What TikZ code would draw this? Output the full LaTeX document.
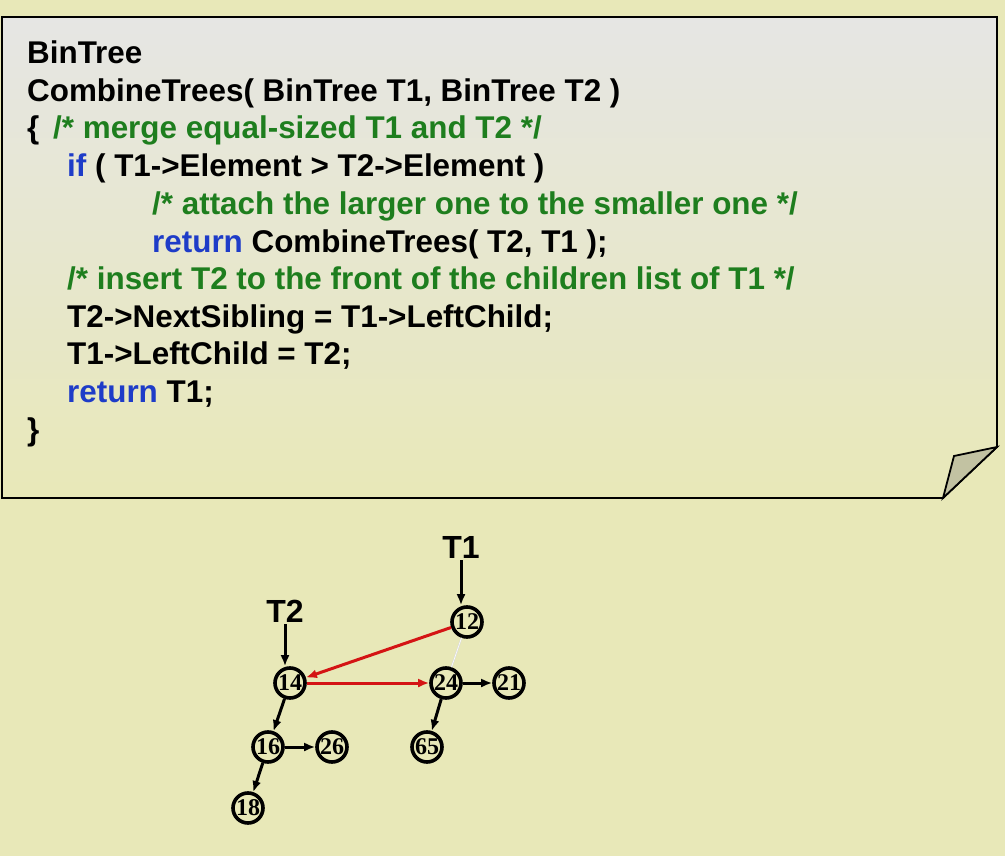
\documentclass[tikz,border=0pt]{standalone}
\usepackage{fontspec}
\setmainfont{Liberation Sans}
\newfontfamily\numfont{Liberation Serif}
\usetikzlibrary{arrows.meta}

\definecolor{bg}{HTML}{E8E8B8}
\definecolor{boxtop}{HTML}{E6E6E4}
\definecolor{cmt}{HTML}{1E7E1E}
\definecolor{kw}{HTML}{1E3CC8}
\definecolor{fold}{HTML}{C2C2A2}
\definecolor{redlink}{HTML}{D41414}

\tikzset{
  code/.style={anchor=base west,inner sep=0pt,font=\fontsize{31.4}{36}\selectfont\bfseries},
  elem/.style={circle,draw,line width=3.6pt,minimum size=30pt,inner sep=0pt,
    font=\numfont\bfseries\fontsize{24}{24}\selectfont},
  link/.style={->,line width=3pt},
  tname/.style={font=\fontsize{32}{32}\selectfont\bfseries,inner sep=2pt}
}

\begin{document}
\begin{tikzpicture}[x=1pt,y=-1pt,>={Latex[length=11pt,width=9pt]}]
        \fill[bg] (0,0) rectangle (1005,856);
        \useasboundingbox (0,0) rectangle (1005,856);

        % code box with folded corner
        \shade[top color=boxtop,bottom color=bg] (2,17)--(997,17)--(997,447)--(943,498)--(2,498)--cycle;
        \draw[line width=1.8pt] (2,17)--(997,17)--(997,447)--(943,498)--(2,498)--cycle;
        \draw[fill=fold,line width=1.8pt] (997,447)--(954,456)--(943,498)--cycle;

        \node[code] (l1) at (27,64) {BinTree};
        \node[code] (l2) at (27,101.6) {CombineTrees( BinTree T1, BinTree T2 )};
        \node[code] (l3) at (27,139) {\{};
        \node[code,text=cmt] (c1) at (53,139) {/* merge equal-sized T1 and T2 */};
        \node[code] (l4) at (67,176.8) {\textcolor{kw}{if} ( T1->Element > T2->Element )};
        \node[code,text=cmt] (c2) at (152,214.4) {/* attach the larger one to the smaller one */};
        \node[code] (l6) at (152,252) {\textcolor{kw}{return} CombineTrees( T2, T1 );};
        \node[code,text=cmt] (c3) at (67,289.6) {/* insert T2 to the front of the children list of T1 */};
        \node[code] (l8) at (67,327.2) {T2->NextSibling = T1->LeftChild;};
        \node[code] (l9) at (67,364.8) {T1->LeftChild = T2;};
        \node[code] (l10) at (67,402.4) {\textcolor{kw}{return} T1;};
        \node[code] (l11) at (27,440) {\}};

        % the two trees
        \node[tname] (t1) at (461,547) {T1};
        \node[tname] (t2) at (285,611) {T2};
        \node[elem] (n12) at (467,622) {12};
        \node[elem] (n14) at (290,683) {14};
        \node[elem] (n24) at (446,683) {24};
        \node[elem] (n21) at (509,683) {21};
        \node[elem] (n16) at (268,747) {16};
        \node[elem] (n26) at (332,747) {26};
        \node[elem] (n65) at (427,747) {65};
        \node[elem] (n18) at (248,808) {18};

        \draw[link] (t1.south) -- (t1.south |- n12.north);
        \draw[link] (t2.south) -- (t2.south |- n14.north);
        \draw[black!15,line width=0.5pt,double] (n12) -- (n24);
        \draw[link,redlink] (n12) -- (n14);
        \draw[link,redlink] (n14) -- (n24);
        \draw[link] (n24) -- (n21);
        \draw[link] (n24) -- (n65);
        \draw[link] (n14) -- (n16);
        \draw[link] (n16) -- (n26);
        \draw[link] (n16) -- (n18);

    \end{tikzpicture}
\end{document}
